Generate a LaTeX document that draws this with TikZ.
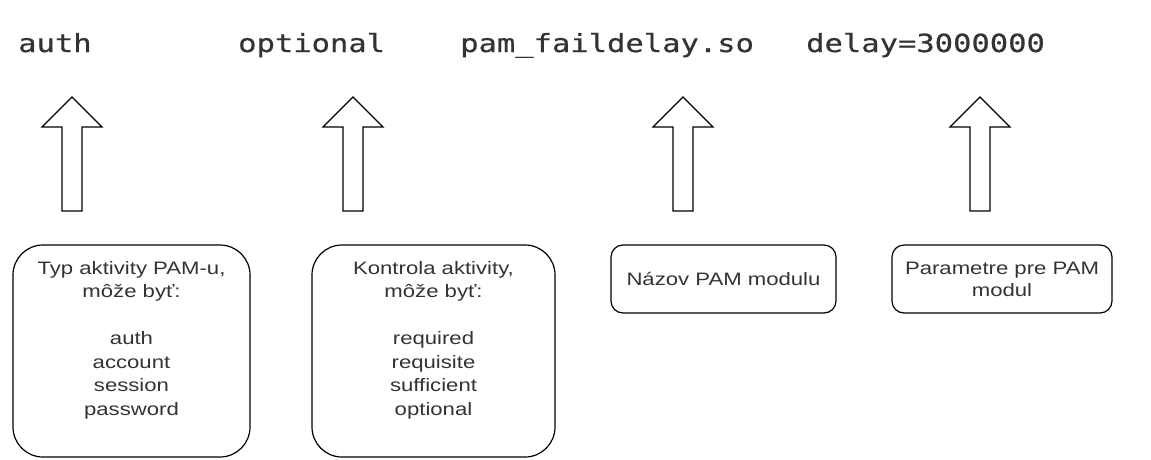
\documentclass[tikz,border=0pt]{standalone}
\usepackage{fontspec}
\setmainfont{Liberation Sans}[FakeStretch=1.23]
\newfontfamily\codefont{DejaVu Sans Mono}[FakeStretch=1.22,FakeBold=0.6]
\begin{document}
\begin{tikzpicture}[x=1pt,y=-1pt,
	code/.style={anchor=base west,inner sep=0pt,text=black!80,font=\codefont\fontsize{25}{30}\selectfont},
	bigbox/.style={draw,line width=1.2pt,rounded corners=30pt,inner sep=0pt,minimum width=237pt,minimum height=212pt},
	smallbox/.style={draw,line width=1.2pt,rounded corners=12pt,inner sep=0pt,minimum width=225pt,minimum height=68pt,
		align=center,text=black!80,font=\fontsize{18}{22}\selectfont},
	boxtext/.style={inner sep=0pt,align=center,text=black!80,font=\fontsize{18}{23.5}\selectfont},
	blockarrow/.style={draw,line width=1.2pt,line join=miter}]
\path (0,0) coordinate (nw) (1151,459) coordinate (se);
\useasboundingbox (nw) rectangle (se);
\path (18,52) node[code] (w-auth) {auth}
		(238,52) node[code] (w-opt) {optional}
		(460,52) node[code] (w-mod) {pam\_faildelay.so}
		(806,52) node[code] (w-arg) {delay=3000000}
		(131.5,351) node[bigbox] (typ) {}
		(433.5,351) node[bigbox,minimum width=243pt] (ctrl) {}
		(723.5,279) node[smallbox] (mod) {Názov PAM modulu}
		(1002,279) node[smallbox,minimum width=220pt] (arg) {Parametre pre PAM\\modul}
		(131.5,340) node[boxtext] (typ-t) {Typ aktivity PAM-u,\\môže byť:\\[23.5pt]auth\\account\\session\\password}
		(433.5,340) node[boxtext] (ctrl-t) {Kontrola aktivity,\\môže byť:\\[23.5pt]required\\requisite\\sufficient\\optional}
		;
\foreach \ax in {72,353,683,980}
	\draw[blockarrow] (\ax,97) -- (\ax+30,127) -- (\ax+10,127) -- (\ax+10,211)
		-- (\ax-10,211) -- (\ax-10,127) -- (\ax-30,127) -- cycle;
\end{tikzpicture}
\end{document}
